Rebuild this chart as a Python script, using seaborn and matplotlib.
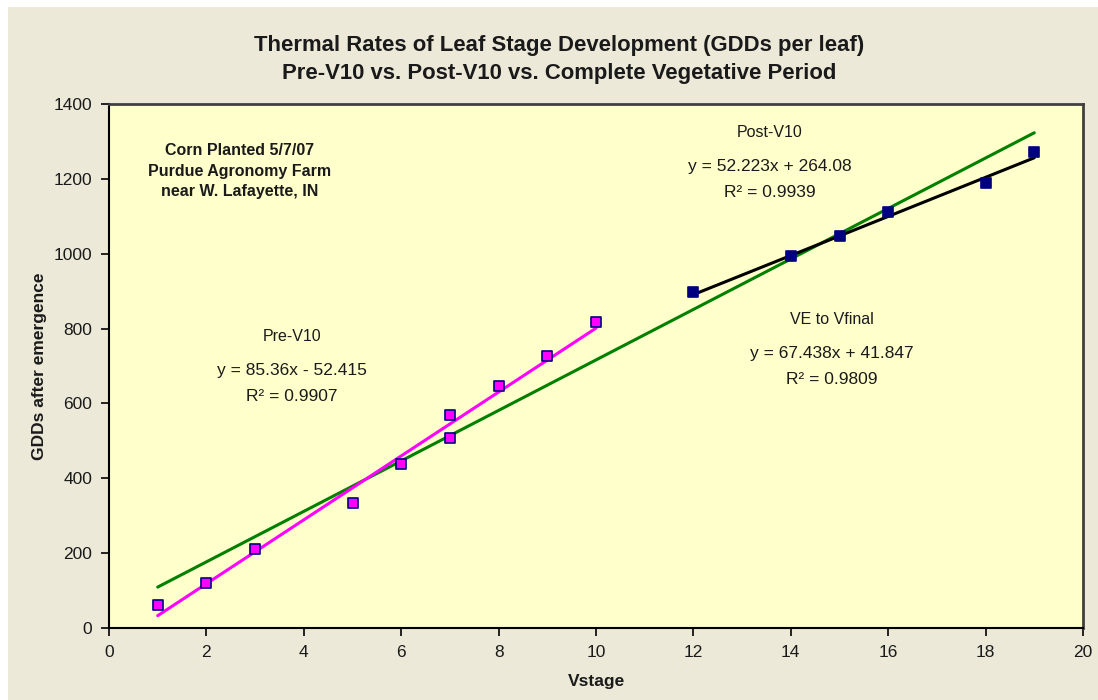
import numpy as np
import pandas as pd
import matplotlib
matplotlib.use("Agg")
import matplotlib.pyplot as plt
from matplotlib.patches import Rectangle
import seaborn as sns

# Leaf stage observations (Vstage vs. GDDs after emergence)
pre_x = [1, 2, 3, 5, 6, 7, 7, 8, 9, 10]
pre_y = [61, 121, 210, 335, 438, 570, 507, 647, 727, 818]
post_x = [12, 14, 15, 16, 18, 19]
post_y = [897, 994, 1046, 1112, 1190, 1271]

# Linear trend lines: (slope, intercept, R², x-range)
pre_fit = (85.36, -52.415, 0.9907, (1, 10))
post_fit = (52.223, 264.08, 0.9939, (12, 19))
all_fit = (67.438, 41.847, 0.9809, (1, 19))

x_ticks = list(range(0, 21, 2))
y_ticks = list(range(0, 1401, 200))

sns.set_style("white")
plt.rcParams["font.family"] = ["Liberation Sans", "DejaVu Sans"]

BEIGE = "#ECE9D8"
PLOT_BG = "#FFFFCC"
TXT = "#1a1a1a"

fig = plt.figure(figsize=(10.98, 7.0), dpi=100, facecolor="white")
fig.patches.append(Rectangle((8 / 1098, 0), 1, 693 / 700, transform=fig.transFigure,
                             facecolor=BEIGE, edgecolor="none", zorder=-10))
ax = fig.add_axes([109 / 1098, 1 - 628 / 700, (1083 - 109) / 1098, (628 - 104) / 700])
ax.set_zorder(5)
ax.set_facecolor(PLOT_BG)


def fit_frame(fit):
    m, b, _, (x0, x1) = fit
    xs = np.array([x0, x1], dtype=float)
    return pd.DataFrame({"x": xs, "y": m * xs + b})


sns.lineplot(data=fit_frame(all_fit), x="x", y="y", color="#008000", lw=2.2, ax=ax, zorder=2)
sns.lineplot(data=fit_frame(pre_fit), x="x", y="y", color="#FF00FF", lw=2.2, ax=ax, zorder=3)
sns.lineplot(data=fit_frame(post_fit), x="x", y="y", color="black", lw=2.2, ax=ax, zorder=3)

sns.scatterplot(x=pre_x, y=pre_y, marker="s", s=55, color="#FF00FF",
                edgecolor="#000080", linewidth=1.2, ax=ax, zorder=4)
sns.scatterplot(x=post_x, y=post_y, marker="s", s=48, color="#000080",
                edgecolor="#000080", linewidth=1.2, ax=ax, zorder=4)

ax.set_xlim(0, 20)
ax.set_ylim(0, 1400)
ax.set_xticks(x_ticks)
ax.set_yticks(y_ticks)
ax.tick_params(axis="both", direction="out", length=6, width=1.2, color="black",
               labelsize=12.5, labelcolor=TXT, pad=6, left=True, bottom=True)
for side in ["left", "bottom"]:
    ax.spines[side].set_color("black")
    ax.spines[side].set_linewidth(1.5)
for side in ["top", "right"]:
    ax.spines[side].set_color("#404040")
    ax.spines[side].set_linewidth(2)

ax.set_xlabel("Vstage", fontsize=12.5, fontweight="bold", color=TXT, labelpad=10)
ax.set_ylabel("GDDs after emergence", fontsize=12.5, fontweight="bold", color=TXT, labelpad=5)

fig.text(559 / 1098, 1 - 46 / 700, "Thermal Rates of Leaf Stage Development (GDDs per leaf)",
         ha="center", va="center", fontsize=15.9, fontweight="bold", color=TXT)
fig.text(559 / 1098, 1 - 74 / 700, "Pre-V10 vs. Post-V10 vs. Complete Vegetative Period",
         ha="center", va="center", fontsize=15.9, fontweight="bold", color=TXT)

ax.text(2.69, 1295, "Corn Planted 5/7/07\nPurdue Agronomy Farm\nnear W. Lafayette, IN",
        ha="center", va="top", fontsize=11.5, fontweight="bold", color=TXT, linespacing=1.45)


def fit_label(fit, xc, y_name, name):
    m, b, r2, _ = fit
    sign = "+" if b >= 0 else "-"
    ax.text(xc, y_name, name, ha="center", va="center", fontsize=11.5, color=TXT)
    ax.text(xc, y_name - 90, f"y = {m:g}x {sign} {abs(b):g}",
            ha="center", va="center", fontsize=12.5, color=TXT)
    ax.text(xc, y_name - 160, f"R² = {r2:g}", ha="center", va="center",
            fontsize=12.5, color=TXT)


fit_label(pre_fit, 3.76, 778, "Pre-V10")
fit_label(post_fit, 13.57, 1323, "Post-V10")
fit_label(all_fit, 14.85, 823, "VE to Vfinal")

fig.savefig("out.png", dpi=100, facecolor=fig.get_facecolor())
